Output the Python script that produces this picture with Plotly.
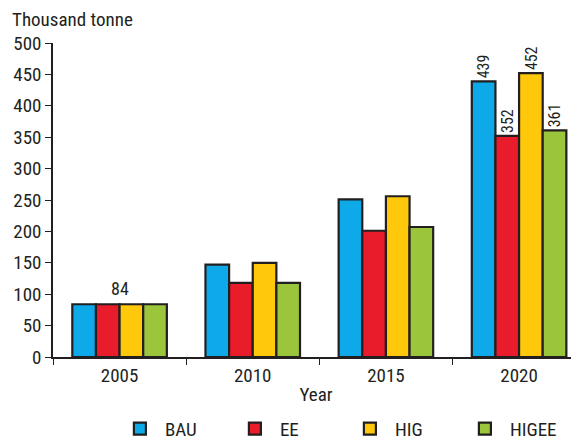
import plotly.graph_objects as go

years = ["2005", "2010", "2015", "2020"]
series_names = ["BAU", "EE", "HIG", "HIGEE"]
bau = [84, 147, 251, 439]
ee = [84, 118, 201, 352]
hig = [84, 150, 256, 452]
higee = [84, 118, 207, 361]
colors = ["#0DA9E8", "#E81C2A", "#FFC80A", "#9BC63B"]
y_ticks = [0, 50, 100, 150, 200, 250, 300, 350, 400, 450, 500]

FONT = "Liberation Sans Narrow, Arial Narrow, Roboto Condensed, sans-serif"
fig = go.Figure()
for name, vals, col in zip(series_names, [bau, ee, hig, higee], colors):
    texts = [""] * (len(years) - 1) + [str(vals[-1])]
    fig.add_trace(go.Bar(
        x=years, y=vals, name=name,
        marker=dict(color=col, line=dict(color="#231f20", width=2.2)),
        text=texts, textposition="outside", textangle=-90,
        textfont=dict(family=FONT, size=17, color="#231f20"),
        cliponaxis=False,
    ))

fig.add_annotation(x=years.index("2005"), y=bau[0], text=str(bau[0]), showarrow=False,
                   yanchor="bottom", yshift=3,
                   font=dict(family=FONT, size=18, color="#231f20"))

fig.update_layout(
    width=571, height=436,
    margin=dict(l=45, r=0, t=35, b=87),
    paper_bgcolor="white", plot_bgcolor="white",
    barmode="group", bargap=0.29, bargroupgap=0,
    font=dict(family=FONT, size=18, color="#231f20"),
    showlegend=True,
    legend=dict(orientation="h", xref="container", yref="container",
                x=0.59, xanchor="center", y=0.035, yanchor="middle",
                font=dict(family=FONT, size=19), itemwidth=40, traceorder="normal",
                entrywidth=60, entrywidthmode="pixels"),
)
fig.update_yaxes(range=[0, 500], tickvals=y_ticks, showline=True, linecolor="#231f20",
                 linewidth=1.5, ticks="outside", ticklen=6, tickcolor="#231f20",
                 showgrid=False, zeroline=False, automargin=False,
                 tickfont=dict(family=FONT, size=19, color="#231f20"))
fig.update_xaxes(type="category", range=[-0.5, 3.45], showline=True, linecolor="#231f20",
                 linewidth=1.5, ticks="outside", ticklen=6, tickcolor="#231f20",
                 tickson="boundaries", showgrid=False, automargin=False,
                 tickfont=dict(family=FONT, size=19, color="#231f20"),
                 title=dict(text="Year", font=dict(family=FONT, size=19), standoff=2))
fig.add_annotation(xref="paper", yref="paper", x=0, y=1.0, xshift=-43, yshift=10,
                   xanchor="left", yanchor="bottom", showarrow=False,
                   text="Thousand tonne",
                   font=dict(family=FONT, size=19, color="#231f20"))

fig.write_html("out.html")
